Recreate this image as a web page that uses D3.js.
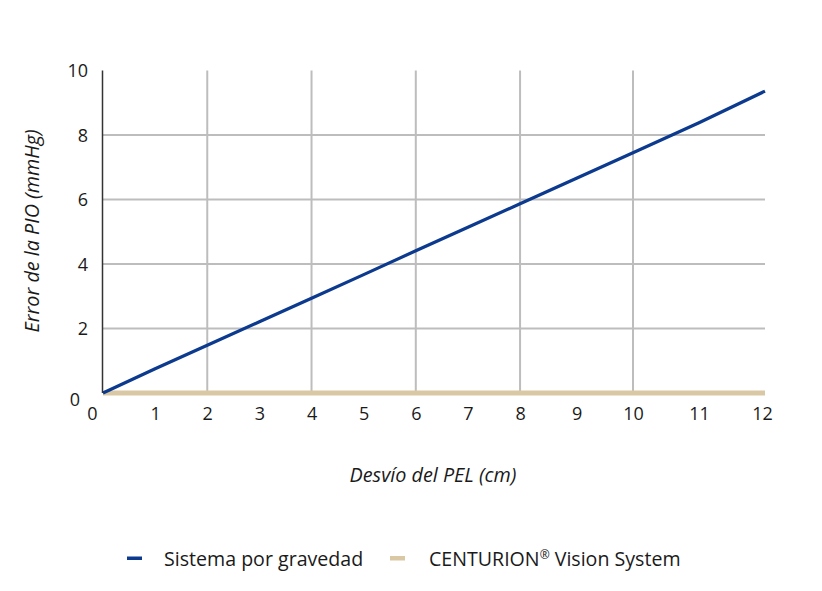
<!DOCTYPE html>
<html><head><meta charset="utf-8">
<script src="https://cdn.jsdelivr.net/npm/d3@7"></script>
<style>
body{margin:0;background:#fff;}
text{font-family:"Open Sans",sans-serif;fill:#1a1a1a;}
</style></head>
<body><svg id="c" width="822" height="591"></svg>
<script>
const xTicks = [0,1,2,3,4,5,6,7,8,9,10,11,12];
const yTicks = [0,2,4,6,8,10];
const xGrid = [2,4,6,8,10];
const yGrid = [2,4,6,8];
const gravityX = [0,1,2,3,4,5,6,7,8,9,10,11,12];
const gravityY = [0,0.75,1.48,2.21,2.94,3.67,4.41,5.14,5.87,6.66,7.45,8.38,9.36];
const centurionX = [0,12];
const centurionY = [0,0];
const seriesNames = ["Sistema por gravedad","CENTURION","®"," Vision System"];
const xTitle = "Desvío del PEL (cm)";
const yTitle = "Error de la PIO (mmHg)";

const svg = d3.select("#c");
const L = 103, R = 765, T = 70.5, B = 393;
const W = R - L;
const x = d3.scaleLinear().domain([0,8,10,12]).range([L, L + W*0.63, L + W*0.8006, R]);
const y = d3.scaleLinear().domain([0,10]).range([B, T]);

// grid
svg.append("g").selectAll("line").data(xGrid).join("line")
  .attr("x1", d=>x(d)).attr("x2", d=>x(d)).attr("y1", T).attr("y2", B)
  .attr("stroke", "#bdbdbd").attr("stroke-width", 2);
svg.append("g").selectAll("line").data(yGrid).join("line")
  .attr("x1", L).attr("x2", R).attr("y1", d=>y(d)).attr("y2", d=>y(d))
  .attr("stroke", "#bdbdbd").attr("stroke-width", 2);

// y axis line
svg.append("line").attr("x1", L-0.5).attr("x2", L-0.5).attr("y1", T).attr("y2", B)
  .attr("stroke", "#333").attr("stroke-width", 1.5);

// axes labels
const yAxis = d3.axisLeft(y).tickValues(yTicks).tickSize(0).tickPadding(15);
const gy = svg.append("g").attr("transform", `translate(${L},0)`).call(yAxis);
gy.select(".domain").remove();
gy.selectAll("text").attr("font-size", 18).attr("font-family", "Open Sans").attr("fill", "#1a1a1a").attr("dy", "0.36em");
gy.selectAll(".tick").filter(d=>d===0).select("text").attr("dy", "0.667em").attr("dx", -8);

const xAxis = d3.axisBottom(x).tickValues(xTicks).tickSize(0).tickPadding(14).tickFormat(d3.format("d"));
const gx = svg.append("g").attr("transform", `translate(0,${B})`).call(xAxis);
gx.select(".domain").remove();
gx.selectAll("text").attr("font-size", 18).attr("font-family", "Open Sans").attr("fill", "#1a1a1a");
gx.selectAll(".tick").filter(d=>d===0).select("text").attr("dx", -11);
gx.selectAll(".tick").filter(d=>d===12).select("text").attr("dx", -3);

// series
const line = d3.line().x(d=>x(d[0])).y(d=>y(d[1]));
svg.append("path").datum(centurionX.map((v,i)=>[v,centurionY[i]]))
  .attr("d", line).attr("fill","none").attr("stroke","#dac8a4").attr("stroke-width",5);
svg.append("path").datum(gravityX.map((v,i)=>[v,gravityY[i]]))
  .attr("d", line).attr("fill","none").attr("stroke","#0c3a8e").attr("stroke-width",3.2);

// titles
svg.append("text").attr("x", 433).attr("y", 482).attr("text-anchor","middle")
  .attr("font-size", 19.8).attr("font-style","italic").text(xTitle);
svg.append("text").attr("transform","translate(39,231) rotate(-90)").attr("text-anchor","middle")
  .attr("font-size", 19.8).attr("font-style","italic").text(yTitle);

// legend
svg.append("rect").attr("x", 127).attr("y", 556.5).attr("width", 15).attr("height", 3.5).attr("fill", "#0c3a8e");
svg.append("text").attr("x", 164).attr("y", 565.5).attr("font-size", 19.6).text(seriesNames[0]);
svg.append("rect").attr("x", 390).attr("y", 556).attr("width", 15).attr("height", 4.5).attr("fill", "#dac8a4");
const t2 = svg.append("text").attr("x", 429).attr("y", 565.5).attr("font-size", 19.6);
t2.append("tspan").text(seriesNames[1]);
t2.append("tspan").attr("font-size", 12).attr("dy", -7).text(seriesNames[2]);
t2.append("tspan").attr("dy", 7).text(seriesNames[3]);
</script></body></html>
